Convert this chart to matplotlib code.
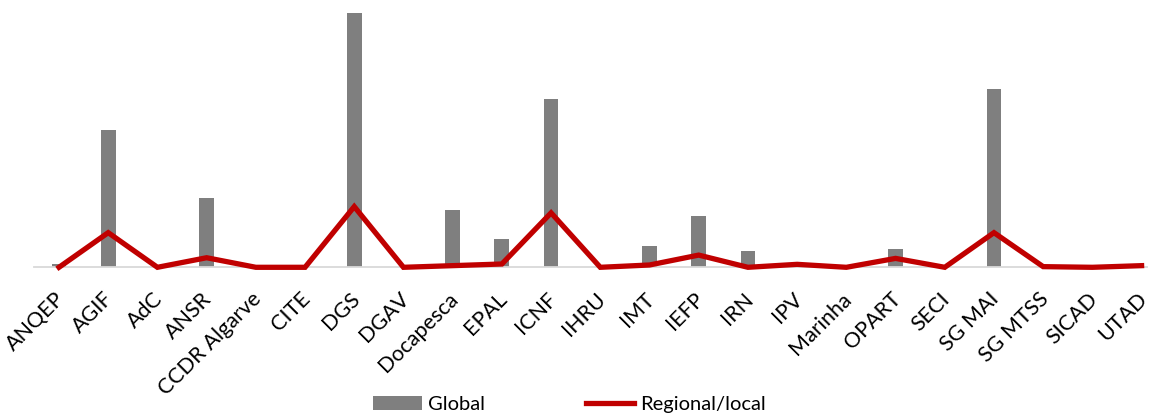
import numpy as np
import matplotlib.pyplot as plt
from matplotlib.transforms import ScaledTranslation

# categories and values
orgs = ["ANQEP", "AGIF", "AdC", "ANSR", "CCDR Algarve", "CITE", "DGS", "DGAV",
        "Docapesca", "EPAL", "ICNF", "IHRU", "IMT", "IEFP", "IRN", "IPV",
        "Marinha", "OPART", "SECI", "SG MAI", "SG MTSS", "SICAD", "UTAD"]
global_vals = [1, 41.5, 0, 21, 0, 0, 77, 0, 17.3, 8.5, 51, 0, 6.5, 15.5, 5, 0,
               0, 5.5, 0, 54, 0, 0, 0]
regional_vals = [0, 10.5, 0, 2.9, 0, 0, 18.4, 0, 0.5, 1, 16.5, 0, 0.7, 3.7, 0, 0.9,
                 0, 2.7, 0, 10.5, 0.2, 0, 0.5]

plt.rcParams['font.family'] = ['Lato', 'DejaVu Sans']

fig = plt.figure(figsize=(11.53, 4.17), dpi=100)
ax = fig.add_axes([34.4 / 1153, (417 - 267.3) / 417, (1147 - 34.4) / 1153, 267.3 / 417])

x = np.arange(len(orgs))
bars = ax.bar(x, global_vals, width=0.3, color="#7f7f7f", label="Global", zorder=2)
line, = ax.plot(x, regional_vals, color="#c00000", lw=3.8, label="Regional/local",
                solid_joinstyle='miter', clip_on=False, zorder=3)

ax.set_xlim(-0.5, 22.11)
ax.set_ylim(0, 81)

# only the light bottom axis line
for s in ['top', 'right', 'left']:
    ax.spines[s].set_visible(False)
ax.spines['bottom'].set_color("#d9d9d9")
ax.spines['bottom'].set_linewidth(1.3)
ax.set_yticks([])
ax.set_xticks(x)
ax.set_xticklabels(orgs, rotation=45, ha='right', rotation_mode='anchor', fontsize=15.5)
ax.tick_params(axis='x', length=0, pad=14)

# nudge labels a little to the left, like the original
shift = ScaledTranslation(-5 / 100, -2 / 100, fig.dpi_scale_trans)
for lab in ax.get_xticklabels():
    lab.set_transform(lab.get_transform() + shift)

fig.legend([bars, line], ["Global", "Regional/local"], loc='lower center',
           bbox_to_anchor=(0.494, -0.035), ncol=2, frameon=False,
           fontsize=14.5, handlelength=2.4, columnspacing=5.0, handletextpad=0.3)

fig.savefig("out.png", dpi=100)
